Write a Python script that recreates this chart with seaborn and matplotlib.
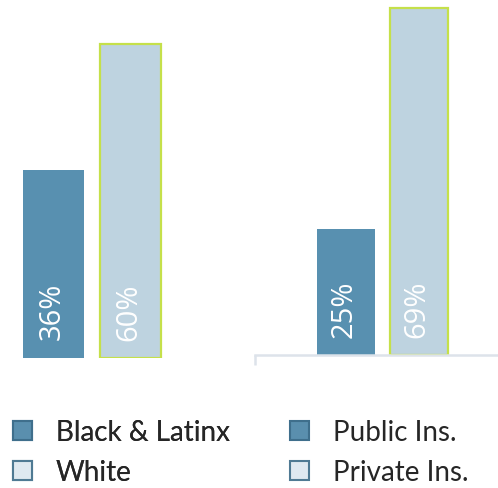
import matplotlib
matplotlib.use("Agg")
import matplotlib.pyplot as plt
from matplotlib.patches import Patch
import pandas as pd
import seaborn as sns

# Data
race_groups = ["Black & Latinx", "White"]
race_values = [36, 60]
ins_groups = ["Public Ins.", "Private Ins."]
ins_values = [25, 69]

dark = "#5890b0"
light = "#bed3e0"
green = "#c5e04a"

sns.set_theme(style="white")
plt.rcParams["font.family"] = ["Lato", "DejaVu Sans"]

fig = plt.figure(figsize=(4.98, 4.89), dpi=100)
W, H = 498, 489

# left chart: baseline at y=359px, right chart: baseline at y=356px
ax1 = fig.add_axes([0, (H - 359) / H, 250 / W, 359 / H])
ax2 = fig.add_axes([255 / W, (H - 356) / H, (W - 255) / W, 356 / H])


def draw(ax, groups, values, ymax, xlim):
    df = pd.DataFrame({"cat": ["g"] * len(groups), "group": groups, "value": values})
    sns.barplot(data=df, x="cat", y="value", hue="group", hue_order=groups,
                palette=[dark, light], width=0.8, gap=0.2, ax=ax,
                legend=False, saturation=1)
    for i, p in enumerate(ax.patches):
        if i == 1:
            p.set_edgecolor(green)
            p.set_linewidth(1.6)
        else:
            p.set_linewidth(0)
        cx = p.get_x() + p.get_width() / 2
        ax.annotate(f"{values[i]}%", xy=(cx, 0), xytext=(-1, 34),
                    textcoords="offset points", rotation=90,
                    ha="center", va="center", color="white",
                    fontsize=21, family=["Open Sans", "DejaVu Sans"])
    ax.set_ylim(0, ymax)
    ax.set_xlim(*xlim)
    ax.set_xlabel("")
    ax.set_ylabel("")
    ax.set_yticks([])
    ax.patch.set_alpha(0)
    for s in ax.spines.values():
        s.set_visible(False)


draw(ax1, race_groups, race_values, 359 / 5.23, (-92 / 192.5, (250 - 92) / 192.5))
draw(ax2, ins_groups, ins_values, 356 / 5.03, (-127.25 / 181.25, 115.75 / 181.25))

ax1.set_xticks([])
ax2.spines["bottom"].set_visible(True)
ax2.spines["bottom"].set_color("#dde3ea")
ax2.spines["bottom"].set_linewidth(1.8)
ax2.set_xticks([ax2.get_xlim()[0]])
ax2.set_xticklabels([""])
ax2.tick_params(axis="x", length=7, width=1.8, color="#dde3ea", direction="out", bottom=True)

leg_kw = dict(frameon=False, fontsize=20, handlelength=0.7, handleheight=0.7,
              handletextpad=0.85, labelspacing=0.5, borderpad=0, borderaxespad=0,
              loc="center left")
h1 = [Patch(facecolor="#5a8fae", edgecolor="#3f6f8c", linewidth=1.5),
      Patch(facecolor="#dfe9f0", edgecolor="#4f7a93", linewidth=1.5)]
h2 = [Patch(facecolor="#5a8fae", edgecolor="#3f6f8c", linewidth=1.5),
      Patch(facecolor="#dfe9f0", edgecolor="#4f7a93", linewidth=1.5)]
l1 = fig.legend(h1, race_groups, bbox_to_anchor=(13 / W, (H - 453) / H), **leg_kw)
fig.add_artist(l1)
fig.legend(h2, ins_groups, bbox_to_anchor=(290 / W, (H - 453) / H), **leg_kw)

fig.savefig("out.png", dpi=100)
